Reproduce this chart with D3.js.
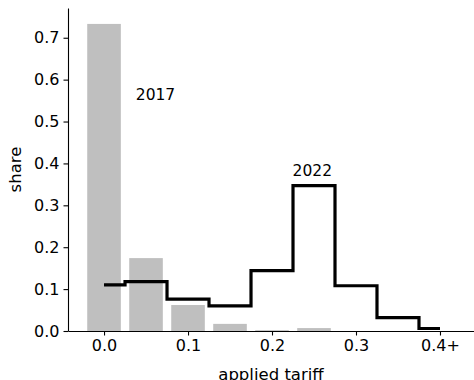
<!DOCTYPE html>
<html>
<head>
<meta charset="utf-8">
<script src="https://cdn.jsdelivr.net/npm/d3@7"></script>
<style>
  body { margin: 0; background: #fff; }
  text { font-family: "DejaVu Sans", sans-serif; }
</style>
</head>
<body>
<script>
// tariff bins (bin centres)
const bins = [0, 0.05, 0.1, 0.15, 0.2, 0.25, 0.3, 0.35, 0.4];
const share2017 = [0.733, 0.174, 0.062, 0.017, 0.002, 0.007, 0, 0, 0];
const share2022 = [0.110, 0.118, 0.076, 0.060, 0.144, 0.347, 0.108, 0.032, 0.006];
const xTicks = [0, 0.1, 0.2, 0.3, 0.4];
const xTickLabels = ['0.0', '0.1', '0.2', '0.3', '0.4+'];
const yTicks = [0, 0.1, 0.2, 0.3, 0.4, 0.5, 0.6, 0.7];

const width = 474;
const height = 380;
const margin = { top: 8, right: 0, bottom: 49, left: 68 };
const innerWidth = width - margin.left - margin.right;
const innerHeight = height - margin.top - margin.bottom;

const xScale = d3.scaleLinear().domain([-0.0429, 0.4405]).range([0, innerWidth]);
const yScale = d3.scaleLinear().domain([0, 0.771]).range([innerHeight, 0]);

const svg = d3.select('body').append('svg')
  .attr('width', width)
  .attr('height', height);
const g = svg.append('g').attr('transform', `translate(${margin.left},${margin.top})`);

// 2017 bars
const barW = xScale(0.04) - xScale(0);
g.selectAll('rect.bar')
  .data(bins.map((b, i) => ({ b, v: share2017[i] })))
  .enter()
  .append('rect')
  .attr('class', 'bar')
  .attr('x', (d) => xScale(d.b) - barW / 2)
  .attr('width', barW)
  .attr('y', (d) => yScale(d.v))
  .attr('height', (d) => yScale(0) - yScale(d.v))
  .attr('fill', '#bfbfbf');

// 2022 step line (steps-mid)
const line = d3.line()
  .x((d) => xScale(d.b))
  .y((d) => yScale(d.v))
  .curve(d3.curveStep);
g.append('path')
  .datum(bins.map((b, i) => ({ b, v: share2022[i] })))
  .attr('d', line)
  .attr('fill', 'none')
  .attr('stroke', '#000')
  .attr('stroke-width', 3.2);

// axes
const xAxis = d3.axisBottom(xScale)
  .tickValues(xTicks)
  .tickFormat((d, i) => xTickLabels[i])
  .tickSize(4.5)
  .tickPadding(4)
  .tickSizeOuter(0);
const yAxis = d3.axisLeft(yScale)
  .tickValues(yTicks)
  .tickFormat(d3.format('.1f'))
  .tickSize(4.5)
  .tickPadding(4)
  .tickSizeOuter(0);

const gx = g.append('g').attr('transform', `translate(0,${innerHeight})`).call(xAxis);
const gy = g.append('g').call(yAxis);
[gx, gy].forEach((a) => {
  a.selectAll('text').attr('font-size', 16).attr('fill', '#000')
    .attr('font-family', '"DejaVu Sans", sans-serif');
  a.selectAll('line, path').attr('stroke', '#000').attr('stroke-width', 1.1);
});

// annotations
g.append('text')
  .attr('x', xScale(0.0613))
  .attr('y', yScale(0.563))
  .attr('text-anchor', 'middle')
  .attr('dominant-baseline', 'central')
  .attr('font-size', 15.5)
  .text('2017');
g.append('text')
  .attr('x', xScale(0.248))
  .attr('y', yScale(0.382))
  .attr('text-anchor', 'middle')
  .attr('dominant-baseline', 'central')
  .attr('font-size', 15.5)
  .text('2022');

// axis labels
svg.append('text')
  .attr('x', margin.left + innerWidth / 2)
  .attr('y', 380)
  .attr('text-anchor', 'middle')
  .attr('font-size', 16.5)
  .text('applied tariff');
svg.append('text')
  .attr('transform', `translate(21,${margin.top + innerHeight / 2}) rotate(-90)`)
  .attr('text-anchor', 'middle')
  .attr('font-size', 16.5)
  .text('share');
</script>
</body>
</html>
